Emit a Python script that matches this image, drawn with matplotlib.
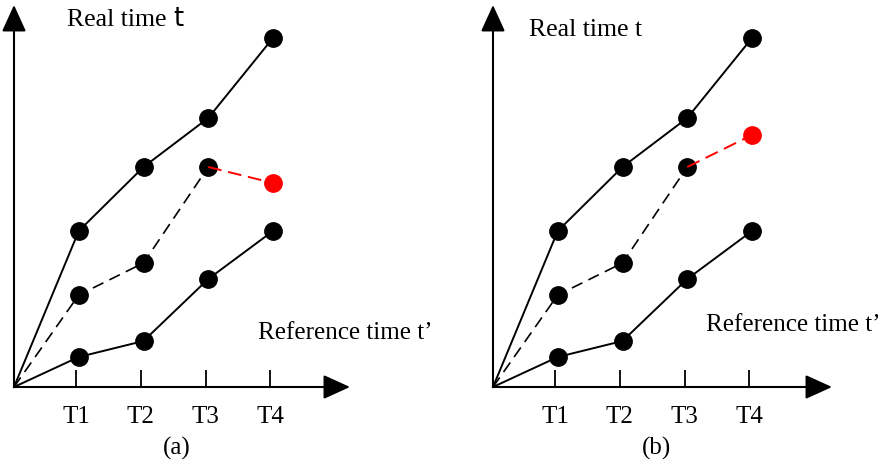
# Two panels: real time vs reference time, with the predicted point in red
import numpy as np
from matplotlib import pyplot as plt

plt.rcParams['font.family'] = ['Liberation Serif', 'DejaVu Serif']

# Data (x in units of T, y in arbitrary real-time units)
ticks = ['T1', 'T2', 'T3', 'T4']
x_full = [0, 1, 2, 3, 4]
upper = [0, 15.6, 22.0, 26.9, 34.9]
lower = [0, 3.0, 4.6, 10.8, 15.6]
x_mid = [0, 1, 2, 3]
middle = [0, 9.2, 12.4, 22.0]
red_a = [22.0, 20.4]
red_b = [22.0, 25.2]
x_red = [3, 4]

px_unit_x = 64.75  # pixels per T
px_unit_y = 10.0   # pixels per y-unit

fig = plt.figure(figsize=(8.9, 4.63), dpi=100)
W, H = 890, 463


def panel(left_px, right_px, red, label, rt_pos, ref_pos, sans_t):
    ax = fig.add_axes([left_px / W, (H - 387) / H, (right_px - left_px) / W, 382 / H])
    ax.set_xlim(0, (right_px - left_px) / px_unit_x)
    ax.set_ylim(0, 382 / px_unit_y)
    for s in ax.spines.values():
        s.set_visible(False)

    # axes arrows
    arrow = dict(arrowstyle='-|>,head_length=1.1,head_width=0.5', mutation_scale=15,
                 color='k', lw=1.5, shrinkA=0, shrinkB=0)
    ax.annotate('', xy=(1, 0), xytext=(0, 0), xycoords='axes fraction', arrowprops=arrow)
    ax.annotate('', xy=(0, 1), xytext=(0, 0), xycoords='axes fraction', arrowprops=arrow)

    ax.plot(x_full, upper, color='k', lw=1.4, clip_on=False)
    ax.plot(x_full, lower, color='k', lw=1.4, clip_on=False)
    ax.plot(x_mid, middle, color='k', lw=1.2, ls=(0, (7, 4)), clip_on=False)
    for ys in (upper, lower):
        ax.plot(x_full[1:], ys[1:], 'o', color='k', ms=12.5, clip_on=False)
    ax.plot(x_mid[1:], middle[1:], 'o', color='k', ms=12.5, clip_on=False)
    ax.plot(x_red, red, color='#ff0000', lw=1.4, ls=(0, (7, 3.5)), clip_on=False, zorder=3)
    ax.plot(x_red[1:], red[1:], 'o', color='#ff0000', ms=12.5, clip_on=False, zorder=3)

    ax.set_xticks(np.array(x_full[1:]) - 0.04)
    ax.set_xticklabels(ticks, fontsize=18)
    ax.set_yticks([])
    ax.tick_params(axis='x', direction='in', length=12, width=1.3, pad=14)

    ax.text(rt_pos[0], rt_pos[1], 'Real time ' + ('' if sans_t else 't'),
            transform=ax.transAxes, fontsize=18.5, va='center', ha='left')
    if sans_t:
        ax.text(rt_pos[0] + 0.315, rt_pos[1] + 0.003, 't', transform=ax.transAxes,
                fontsize=18.5, va='center', ha='left', family='DejaVu Sans')
    ax.text(ref_pos[0], ref_pos[1], 'Reference time t\u2019', transform=ax.transAxes,
            fontsize=18, va='center', ha='left')
    ax.text(0.483, -0.16, label, transform=ax.transAxes, fontsize=18,
            va='center', ha='center')
    return ax


panel(14, 350, red_a, '(a)', (0.158, 0.961), (0.726, 0.141), True)
panel(493, 832, red_b, '(b)', (0.106, 0.935), (0.628, 0.162), False)

plt.savefig('out.png', dpi=100)
